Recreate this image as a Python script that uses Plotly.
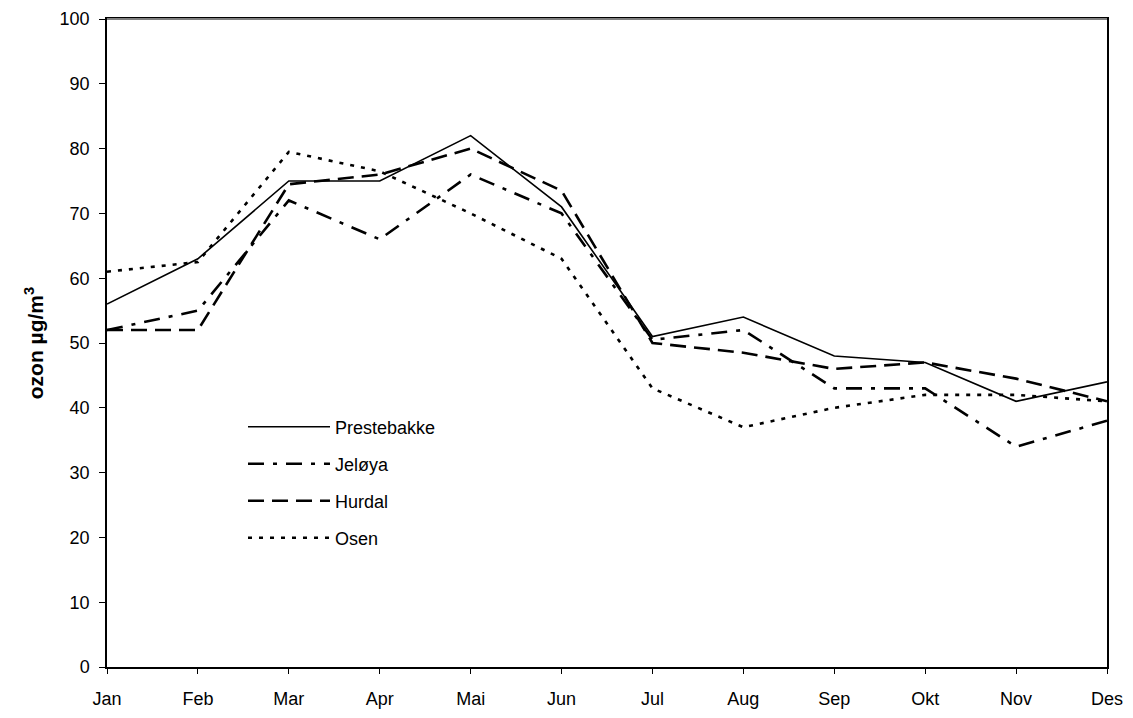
import plotly.graph_objects as go

months = ["Jan", "Feb", "Mar", "Apr", "Mai", "Jun", "Jul", "Aug", "Sep", "Okt", "Nov", "Des"]
prestebakke = [56, 63, 75, 75, 82, 71, 51, 54, 48, 47, 41, 44]
jeloya = [52, 55, 72, 66, 76, 70, 50.5, 52, 43, 43, 34, 38]
hurdal = [52, 52, 74.5, 76, 80, 73.5, 50, 48.5, 46, 47, 44.5, 41]
osen = [61, 62.5, 79.5, 76.5, 70, 63, 43, 37, 40, 42, 42, 41]

series = [
    ("Prestebakke", prestebakke, "solid", 1.6, "legend"),
    ("Jeløya", jeloya, "16px,9px,4px,9px", 2.6, "legend2"),
    ("Hurdal", hurdal, "16px,8px", 2.6, "legend3"),
    ("Osen", osen, "4px,7px", 2.6, "legend4"),
]

fig = go.Figure()
for name, vals, dash, w, lg in series:
    fig.add_trace(go.Scatter(
        x=list(range(len(months))), y=vals, name=name, mode="lines",
        line=dict(color="black", width=w, dash=dash), legend=lg,
    ))

# page has an 8px body offset
OFF = 8
W, H = 1133 - OFF, 718 - OFF
left, right, top, bottom = 107, 1107, 19, 667

font = dict(family="Liberation Sans, Arial, sans-serif", size=18, color="black")
leg_common = dict(font=font, bgcolor="rgba(0,0,0,0)", itemwidth=82,
                  xanchor="left", yanchor="middle", x=0.136, borderwidth=0)
ys = [427, 464, 501, 538]
def py(pix):
    return (bottom - pix) / (bottom - top)

fig.update_layout(
    width=W, height=H,
    margin=dict(l=left - OFF, r=W + OFF - right, t=top - OFF, b=H + OFF - bottom, autoexpand=False),
    paper_bgcolor="white", plot_bgcolor="white",
    font=font,
    showlegend=True,
    legend=dict(**leg_common, y=py(ys[0])),
    legend2=dict(**leg_common, y=py(ys[1])),
    legend3=dict(**leg_common, y=py(ys[2])),
    legend4=dict(**leg_common, y=py(ys[3])),
    xaxis=dict(
        tickmode="array", tickvals=list(range(len(months))), ticktext=months,
        range=[0, len(months) - 1], showgrid=False, zeroline=False, automargin=False,
        showline=True, linecolor="black", linewidth=1.5, mirror=True,
        ticks="outside", ticklen=5, tickcolor="black", tickfont=font,
        ticklabelstandoff=10,
    ),
    yaxis=dict(
        range=[0, 100], dtick=10, showgrid=False, zeroline=False, automargin=False,
        showline=True, linecolor="black", linewidth=1.5, mirror=True,
        ticks="outside", ticklen=6, tickcolor="black", tickfont=font,
        ticklabelstandoff=6,
        title=dict(text="<b>ozon µg/m<sup>3</sup></b>",
                   font=dict(family="Liberation Sans, Arial, sans-serif", size=21, color="black"),
                   standoff=10),
    ),
    shapes=[dict(type="line", xref="paper", yref="paper", x0=0, x1=1, y0=1, y1=1,
                 line=dict(color="#808080", width=2))],
)

fig.write_html("out.html")
